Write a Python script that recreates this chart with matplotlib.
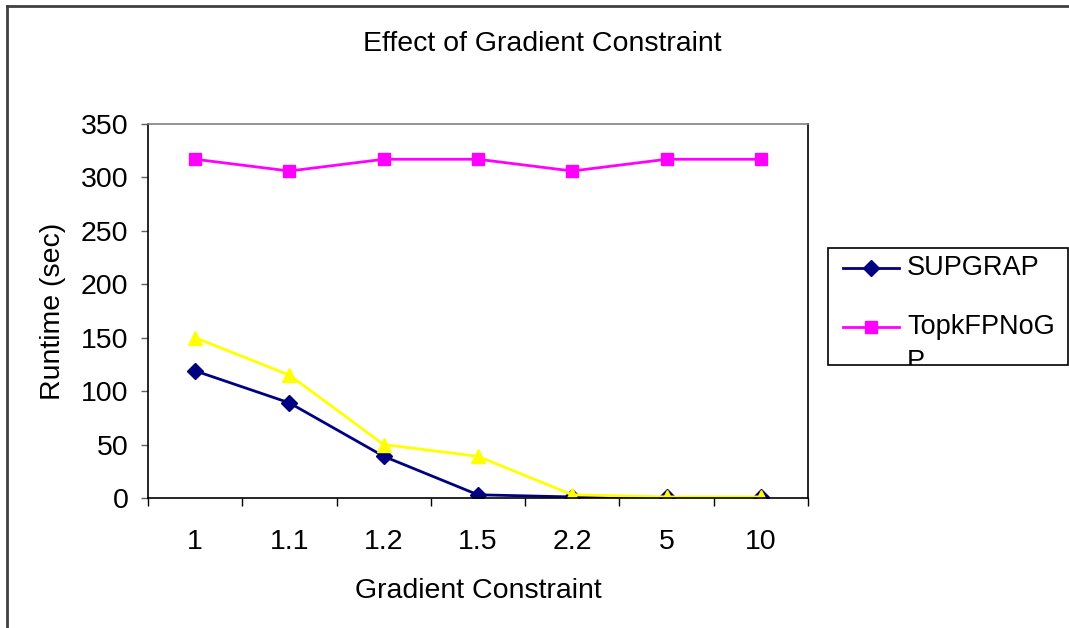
import matplotlib
matplotlib.use("Agg")
import matplotlib.pyplot as plt
from matplotlib.patches import Rectangle
from matplotlib.lines import Line2D

plt.rcParams['font.family'] = ['Liberation Sans', 'DejaVu Sans']

# data
constraints = ['1', '1.1', '1.2', '1.5', '2.2', '5', '10']
supgrap = [119, 89, 39, 3, 1, 0.5, 0.5]
topk_nogp = [317, 306, 317, 317, 306, 317, 317]
topk_third = [150, 115, 50, 39, 3, 1, 1]

series = [
    ('SUPGRAP', supgrap, dict(color='#000080', marker='D', markersize=8)),
    ('TopkFPNoG\nP', topk_nogp, dict(color='#FF00FF', marker='s', markersize=9)),
    ('TopkFP', topk_third, dict(color='#FFFF00', marker='^', markersize=10)),
]

fig = plt.figure(figsize=(10.69, 6.28), dpi=100)
ax = fig.add_axes([148 / 1069, 1 - 498 / 628, 660 / 1069, 374 / 628])

x = list(range(len(constraints)))
for name, vals, st in series:
    ax.plot(x, vals, linewidth=2, markeredgecolor=st['color'], **st)

ax.set_xlim(-0.5, len(constraints) - 0.5)
ax.set_ylim(0, 350)
ax.set_yticks(range(0, 351, 50))
ax.set_xticks(x)
ax.set_xticklabels(constraints)
ax.set_xticks([i - 0.5 for i in range(len(constraints) + 1)], minor=True)
ax.tick_params(axis='x', which='major', length=0, pad=22, labelsize=20.5)
ax.tick_params(axis='x', which='minor', length=6, width=1, direction='out')
ax.tick_params(axis='y', length=5, width=1, direction='out', pad=9, labelsize=20.5,
               color='#606060')

for s in ['left', 'bottom', 'right']:
    ax.spines[s].set_color('black')
    ax.spines[s].set_linewidth(1.2)
ax.spines['top'].set_color('#808080')
ax.spines['top'].set_linewidth(1.2)

ax.set_xlabel('Gradient Constraint', fontsize=20.5)
ax.xaxis.set_label_coords(0.5, -0.213)
ax.set_ylabel('Runtime (sec)', fontsize=20.5)
ax.yaxis.set_label_coords(-0.124, 0.5)

fig.text(0.5077, 1 - 44 / 628, 'Effect of Gradient Constraint', fontsize=20.5,
         ha='center', va='center')

# outer chart border: only the left and top edges fall inside the image
bx, by = 7 / 1069, 1 - 6 / 628
fig.add_artist(Line2D([bx, bx], [-0.1, by], transform=fig.transFigure,
                      color='#404040', linewidth=2))
fig.add_artist(Line2D([bx, 1.1], [by, by], transform=fig.transFigure,
                      color='#404040', linewidth=2))

# legend box, clipped like the Excel original
box = Rectangle((828 / 1069, 1 - 365 / 628), 240 / 1069, 117 / 628,
                transform=fig.transFigure, facecolor='white', edgecolor='black',
                linewidth=1.2)
fig.patches.append(box)
for (name, vals, st), yc in zip(series[:2], [268, 327]):
    yf = 1 - yc / 628
    fig.add_artist(Line2D([843 / 1069, 899 / 1069], [yf, yf], transform=fig.transFigure,
                          linewidth=2, color=st['color']))
    fig.add_artist(Line2D([871 / 1069], [yf], transform=fig.transFigure, linestyle='none',
                          marker=st['marker'], markersize=st['markersize'],
                          color=st['color'], markeredgecolor=st['color']))
    if '\n' in name:
        t = fig.text(907 / 1069, 1 - 314 / 628, name, fontsize=19.5, ha='left',
                     va='top', linespacing=1.45)
    else:
        t = fig.text(907 / 1069, yf, name, fontsize=19.5, ha='left', va='center')
    t.set_clip_path(box)

fig.savefig('out.png', dpi=100)
